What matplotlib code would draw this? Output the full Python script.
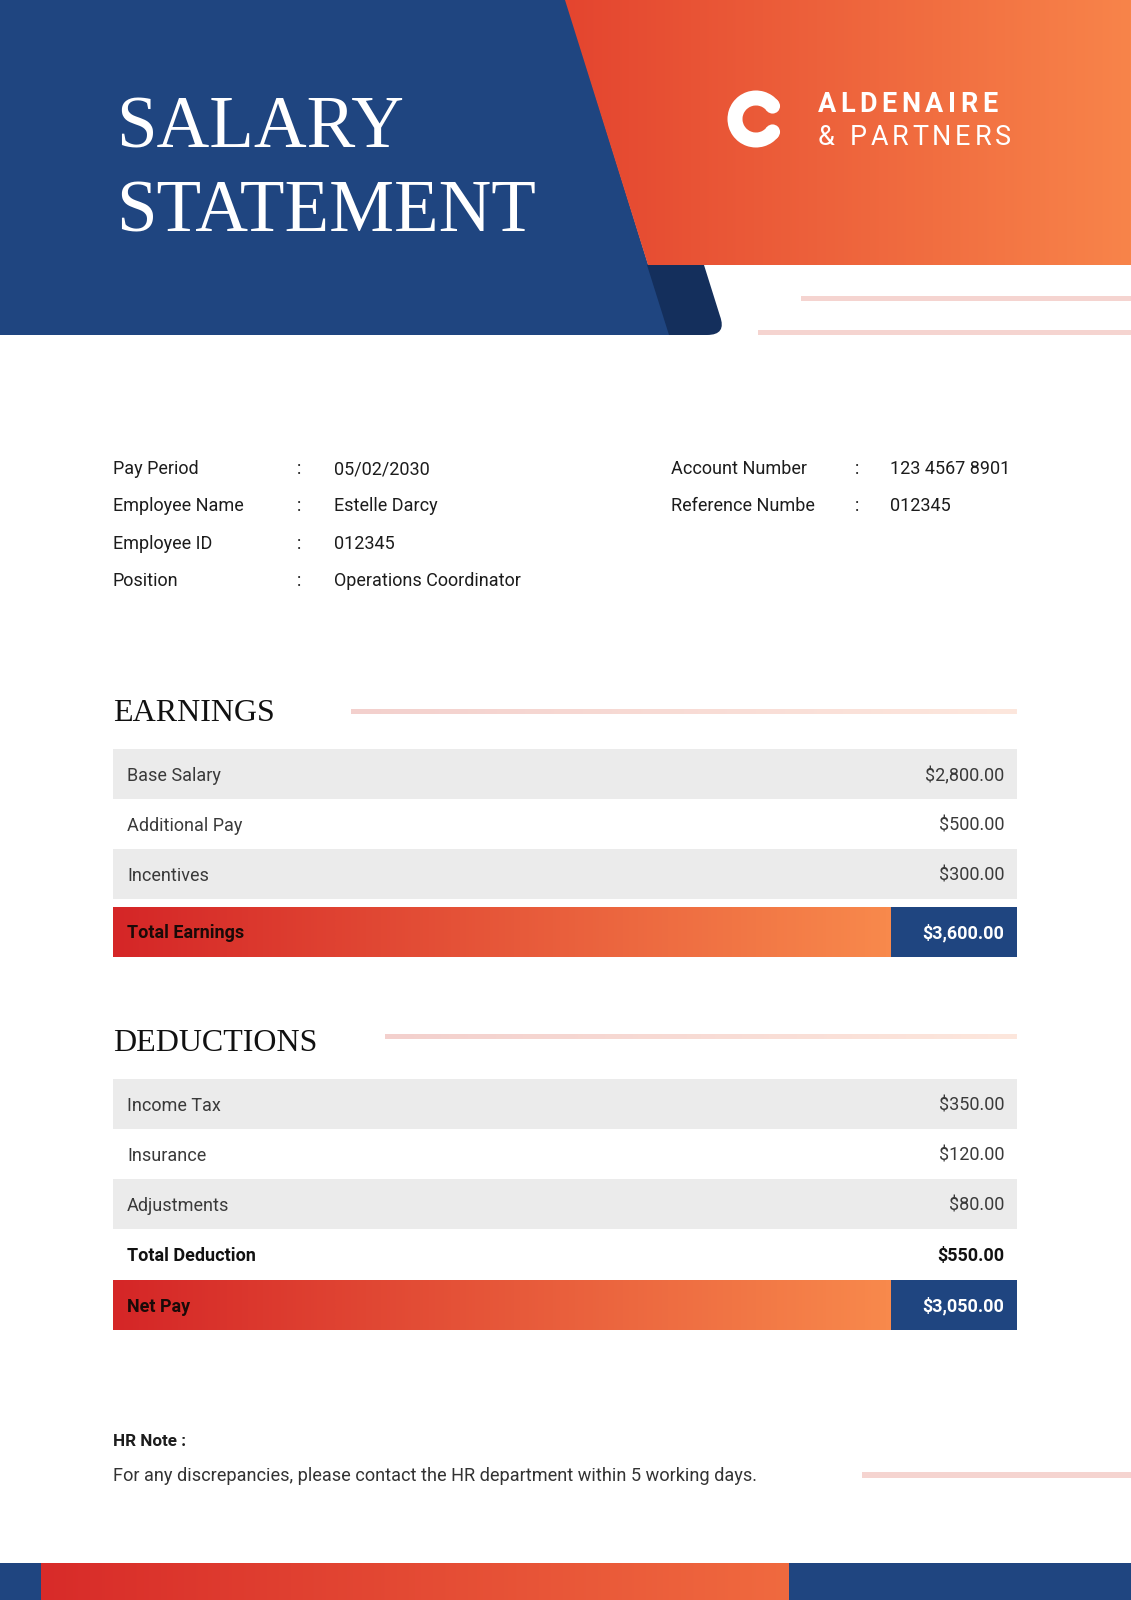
import matplotlib.pyplot as plt
import numpy as np
from matplotlib.colors import LinearSegmentedColormap
from matplotlib.patches import Rectangle, Polygon, PathPatch, Circle, Wedge
from matplotlib.path import Path

# ---- data ----
title_lines = ['SALARY', 'STATEMENT']
company = ['ALDENAIRE', '& PARTNERS']

info_labels_left = ['Pay Period', 'Employee Name', 'Employee ID', 'Position']
info_values_left = ['05/02/2030', 'Estelle Darcy', '012345', 'Operations Coordinator']
info_labels_right = ['Account Number', 'Reference Numbe']
info_values_right = ['123 4567 8901', '012345']

earning_items = ['Base Salary', 'Additional Pay', 'Incentives']
earning_amounts = [2800, 500, 300]
total_earnings = 3600

deduction_items = ['Income Tax', 'Insurance', 'Adjustments']
deduction_amounts = [350, 120, 80]
total_deduction = 550
net_pay = 3050

hr_title = 'HR Note :'
hr_text = 'For any discrepancies, please contact the HR department within 5 working days.'

# ---- colours ----
BLUE = '#1f4580'
NAVY = '#142f5c'
PINK = '#f5d4d0'
GREY = '#ebebeb'
SANS = ['Roboto', 'DejaVu Sans']
SERIF = ['Liberation Serif', 'DejaVu Serif']

W, H = 1131, 1600
PX = 72 / 100  # pixels -> points

fig = plt.figure(figsize=(W / 100, H / 100), dpi=100)
fig.patch.set_facecolor('white')
ax = fig.add_axes([0, 0, 1, 1])
ax.axis('off')
renderer = fig.canvas.get_renderer()


def money(v):
    return '${:,.2f}'.format(v)


def grad(x0, x1, y0, y1, c0, c1, clip=None, z=1):
    cmap = LinearSegmentedColormap.from_list('g', [c0, c1])
    im = ax.imshow(np.linspace(0, 1, 256)[None, :], cmap=cmap, extent=(x0, x1, y1, y0),
                   aspect='auto', zorder=z, interpolation='bilinear')
    if clip is not None:
        im.set_clip_path(clip)
    return im


def text_w(s, **kw):
    t = ax.text(0, 0, s, **kw)
    w = t.get_window_extent(renderer).width
    t.remove()
    return w


def spaced(x, y, s, width, **kw):
    # letter-spaced text, stretched to a given width
    ref = text_w('I', **kw)
    nat = text_w(s, **kw)
    gap = (width - nat) / (len(s) - 1)
    for i, ch in enumerate(s):
        off = text_w(s[:i] + 'I', **kw) - ref if i else 0
        if ch != ' ':
            ax.text(x + off + i * gap, y, ch, ha='left', va='baseline', **kw)


# ---- header ----
ax.add_patch(Polygon([(0, 0), (566, 0), (670, 335), (0, 335)], closed=True,
                     facecolor=BLUE, edgecolor='none', zorder=1))
orange = Polygon([(565, 0), (W, 0), (W, 265), (648, 265)], closed=True,
                 facecolor='none', edgecolor='none')
ax.add_patch(orange)
grad(565, W, 0, 265, '#e4452f', '#f8844a', clip=orange, z=2)

verts = [(647, 265), (704, 265), (720, 316), (727, 335), (707, 335), (669, 335), (647, 265)]
codes = [Path.MOVETO, Path.LINETO, Path.LINETO, Path.CURVE3, Path.CURVE3, Path.LINETO, Path.CLOSEPOLY]
ax.add_patch(PathPatch(Path(verts, codes), facecolor=NAVY, edgecolor='none', zorder=2))

ax.add_patch(Rectangle((801, 295.5), W - 801, 5, facecolor=PINK, edgecolor='none', zorder=2))
ax.add_patch(Rectangle((758, 330), W - 758, 5, facecolor=PINK, edgecolor='none', zorder=2))

title_kw = dict(fontfamily=SERIF, fontsize=73 * PX, color='white', zorder=5,
                ha='left', va='baseline')
ax.text(116, 147, title_lines[0], **title_kw)
ax.text(116, 232, title_lines[1], **title_kw)

# logo mark: thick C with round ends
cx, cy, r_out, thick, gap_deg = 756, 119, 28.5, 15, 38
ax.add_patch(Wedge((cx, cy), r_out, gap_deg, 360 - gap_deg, width=thick,
                   facecolor='white', edgecolor='none', zorder=5))
r_mid = r_out - thick / 2
for a in (gap_deg, -gap_deg):
    ax.add_patch(Circle((cx + r_mid * np.cos(np.radians(a)), cy + r_mid * np.sin(np.radians(a))),
                        thick / 2, facecolor='white', edgecolor='none', zorder=5))

spaced(818, 112, company[0], 179, fontfamily=SANS, fontweight='bold',
       fontsize=27 * PX, color='white', zorder=7)
spaced(818, 145, company[1], 193, fontfamily=SANS, fontsize=27 * PX,
       color='white', zorder=7)

# ---- employee info ----
info_kw = dict(fontfamily=SANS, fontsize=18 * PX, color='#1c1c1c', va='baseline', zorder=5)
for i, (lab, val) in enumerate(zip(info_labels_left, info_values_left)):
    y = 474 + i * 37.3
    ax.text(113, y, lab, **info_kw)
    ax.text(297, y, ':', **info_kw)
    ax.text(334, y, val, **info_kw)
for i, (lab, val) in enumerate(zip(info_labels_right, info_values_right)):
    y = 474 + i * 37.3
    ax.text(671, y, lab, **info_kw)
    ax.text(855, y, ':', **info_kw)
    ax.text(890, y, val, **info_kw)


# ---- tables ----
def section(title, y_title, line_x0, y_line, items, amounts, y_rows):
    ax.text(113, y_title, title, fontfamily=SERIF, fontsize=32 * PX, color='#111111',
            va='baseline', zorder=5)
    grad(line_x0, 1017, y_line - 2.5, y_line + 2.5, '#f3d0cd', '#fde7dd', z=2)
    for i, (item, amt) in enumerate(zip(items, amounts)):
        top = y_rows + i * 50
        if i % 2 == 0:
            ax.add_patch(Rectangle((113, top), 904, 50, facecolor=GREY, edgecolor='none', zorder=1))
        ax.text(127, top + 32, item, fontfamily=SANS, fontsize=18 * PX,
                color='#3a3a3a', va='baseline', zorder=5)
        ax.text(1004, top + 32, money(amt), fontfamily=SANS,
                fontsize=18 * PX, color='#3a3a3a', va='baseline', ha='right', zorder=5)


def total_bar(top, label, value):
    grad(113, 891, top, top + 50, '#d52627', '#f8894c', z=2)
    ax.add_patch(Rectangle((891, top), 126, 50, facecolor=BLUE, edgecolor='none', zorder=2))
    ax.text(127, top + 31.5, label, fontfamily=SANS, fontweight='bold', fontsize=18 * PX,
            color='#1a0a08', va='baseline', zorder=5)
    ax.text(1004, top + 31.5, money(value), fontfamily=SANS, fontweight='bold',
            fontsize=18 * PX, color='white', va='baseline', ha='right', zorder=5)


section('EARNINGS', 721, 351, 711.5, earning_items, earning_amounts, 749)
total_bar(907, 'Total Earnings', total_earnings)

section('DEDUCTIONS', 1051, 385, 1036.5, deduction_items, deduction_amounts, 1079)
ax.text(127, 1261, 'Total Deduction', fontfamily=SANS, fontweight='bold', fontsize=18 * PX,
        color='#111111', va='baseline', zorder=5)
ax.text(1004, 1261, money(total_deduction), fontfamily=SANS, fontweight='bold',
        fontsize=18 * PX, color='#111111', va='baseline', ha='right', zorder=5)
total_bar(1280, 'Net Pay', net_pay)

# ---- HR note ----
ax.text(113, 1446, hr_title, fontfamily=SANS, fontweight='bold', fontsize=17 * PX,
        color='#1c1c1c', va='baseline', zorder=5)
ax.text(113, 1481, hr_text, fontfamily=SANS, fontsize=18.2 * PX, color='#333333',
        va='baseline', zorder=5)
ax.add_patch(Rectangle((862, 1472), W - 862, 5.5, facecolor=PINK, edgecolor='none', zorder=2))

# ---- footer ----
ax.add_patch(Rectangle((0, 1563), 41, H - 1563, facecolor=BLUE, edgecolor='none', zorder=2))
grad(41, 789, 1563, H, '#d82b29', '#f06a3f', z=2)
ax.add_patch(Rectangle((789, 1563), W - 789, H - 1563, facecolor=BLUE, edgecolor='none', zorder=2))

ax.set_xlim(0, W)
ax.set_ylim(H, 0)
fig.savefig('out.png', dpi=100, facecolor='white')
